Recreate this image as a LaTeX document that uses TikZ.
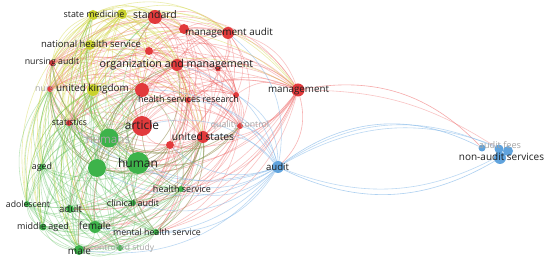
\documentclass[tikz,border=0pt]{standalone}
\usepackage{fontspec}
\setmainfont{Open Sans}
\pgfdeclarelayer{bg}
\pgfsetlayers{bg,main}
\definecolor{rcol}{HTML}{E23A3C}
\definecolor{ycol}{HTML}{C9D22E}
\definecolor{gcol}{HTML}{3DB34A}
\definecolor{bcol}{HTML}{4F9ADA}
\definecolor{rE}{HTML}{EE5757}
\definecolor{yE}{HTML}{D0D53A}
\definecolor{gE}{HTML}{55BE55}
\definecolor{bE}{HTML}{7AB3E8}
\newdimen\vAx \newdimen\vAy \newdimen\vBx \newdimen\vBy
% draw an edge so that it runs clockwise round the middle of the map
\newcommand\vedge[4]{%
  \pgfextractx{\vAx}{\pgfpointanchor{#3}{center}}%
  \pgfextracty{\vAy}{\pgfpointanchor{#3}{center}}%
  \pgfextractx{\vBx}{\pgfpointanchor{#4}{center}}%
  \pgfextracty{\vBy}{\pgfpointanchor{#4}{center}}%
  \pgfmathsetmacro\vCr{(\vAx-150pt)/100*(\vBy-\vAy)/100-(\vAy+130pt)/100*(\vBx-\vAx)/100}%
  \ifdim\vCr pt<0pt \draw[#1] (#3) to[bend left=#2] (#4);%
  \else \draw[#1] (#4) to[bend left=#2] (#3);\fi}
\newcommand\vpairs[3]{\foreach \a [count=\i] in {#3}{\foreach \b [count=\j] in {#3}{\ifnum\j>\i\relax\vedge{#1}{#2}{\a}{\b}\fi}}}
\newcommand\vcross[4]{\foreach \a in {#3}{\foreach \b in {#4}{\vedge{#1}{#2}{\a}{\b}}}}
\tikzset{
  nd/.style={circle, inner sep=0pt, minimum size=#1, draw=none},
  rn/.style={nd=#1, fill=rcol},
  yn/.style={nd=#1, fill=ycol},
  gn/.style={nd=#1, fill=gcol},
  bn/.style={nd=#1, fill=bcol, fill opacity=0.9},
  lab/.style={inner sep=0pt, text=black!88, font=\fontsize{#1}{#1}\selectfont},
  glab/.style={lab=#1, text=black!35},
  ee/.style={line width=0.6pt, draw opacity=0.36},
  eR/.style={ee, draw=rE},
  eY/.style={ee, draw=yE, draw opacity=0.42},
  eG/.style={ee, draw=gE},
  eB/.style={ee, draw=bE, draw opacity=0.5}
}
\begin{document}
\begin{tikzpicture}[x=1pt, y=-1pt]
\useasboundingbox (0,0) rectangle (550,264);
\begin{pgfonlayer}{bg}
\fill[white] (0,0) rectangle (550,264);
\end{pgfonlayer}
% red cluster
\node[rn=14pt] (std) at (155,17) {};
\node[rn=10pt] (ra) at (184,29) {};
\node[rn=12pt] (mga) at (228,33) {};
\node[rn=8pt] (rb) at (149,51) {};
\node[rn=12pt] (om) at (177,65) {};
\node[rn=5pt] (rc) at (218,69) {};
\node[rn=6pt] (nau) at (52,63) {};
\node[rn=6pt] (nurs) at (50,89) {};
\node[rn=14pt] (rd) at (142,90) {};
\node[rn=6pt] (hsr) at (188,100) {};
\node[rn=6pt] (re) at (236,95) {};
\node[rn=6pt] (stat) at (69,123) {};
\node[rn=20pt] (art) at (142,126) {};
\node[rn=6pt] (qc) at (240,126) {};
\node[rn=12pt] (us) at (203,137) {};
\node[rn=8pt] (rf) at (170,145) {};
\node[rn=13pt] (mgt) at (298,90) {};
% yellow cluster
\node[yn=10pt] (sm1) at (93,15) {};
\node[yn=10pt] (sm2) at (122,14) {};
\node[yn=10pt] (nhs) at (90,45) {};
\node[yn=12pt] (uk) at (93,90) {};
% green cluster
\node[gn=19pt] (hums) at (109,138) {};
\node[gn=22pt] (hum) at (138,163) {};
\node[gn=18pt] (ga) at (97,168) {};
\node[gn=6pt] (aged) at (42,167) {};
\node[gn=6pt] (hs) at (181,189) {};
\node[gn=6pt] (adol) at (27,204) {};
\node[gn=8pt] (adult) at (70,209) {};
\node[gn=6pt] (ca) at (133,203) {};
\node[gn=7pt] (mid) at (43,227) {};
\node[gn=12pt] (fem) at (95,227) {};
\node[gn=6pt] (mhs) at (156,232) {};
\node[gn=10pt] (male) at (79,250) {};
\node[gn=6pt] (cs) at (120,248) {};
% blue cluster
\node[bn=12pt] (aud) at (278,167) {};
\node[bn=7pt] (b2) at (482,148) {};
\node[bn=9pt] (b3) at (499,149) {};
\node[bn=10pt] (b4) at (508,151) {};
\node[bn=12pt] (b5) at (500,158) {};
% edges
\begin{pgfonlayer}{bg}
\vpairs{eR}{30}{std,ra,mga,rb,om,rc,nau,nurs,rd,hsr,re,stat,art,qc,us,rf,mgt}
\vcross{eR}{30}{art,us,rf,rd,stat,hsr,qc,om,mgt,nau,nurs,re}{hums,hum,ga}
\vcross{eR}{30}{art,us,mgt,qc,hsr,om,rf}{hs,ca,mhs,fem,male,adult}
\vpairs{eY}{30}{sm1,sm2,nhs,uk}
\vcross{eY}{30}{sm1,sm2,nhs,uk}{std,ra,mga,rb,om,rd,nau,nurs,art,hsr,stat,us,mgt,hums,hum,ga,aged,adol,mid,male,fem}
\vpairs{eG}{30}{hums,hum,ga,aged,hs,adol,adult,ca,mid,fem,mhs,male,cs}
\vcross{eG}{30}{hums,hum,ga}{art,rd,us,rf,stat,uk,nhs,nurs,nau,om,hsr,sm1,std,qc}
\vcross{eG}{30}{fem,male,adult,aged,mid,adol,ca,hs,mhs,cs}{art,rd,us,stat,uk,nurs}
\vcross{eB}{30}{aud}{art,hum,hums,us,rf,qc,hsr,hs,ca,mhs,om,re,ga,fem,rd,mga,stat,male}
\draw[eR, draw opacity=0.45] (mgt) to[bend left=30] (aud);
\draw[eR, draw opacity=0.5] (mgt) to[bend left=28] (b2);
\draw[eR, draw opacity=0.35] (mgt) to[bend left=16] (b3);
\draw[eB, draw opacity=0.6] (aud) to[bend left=32] (b2);
\draw[eB] (aud) to[bend left=29] (b3);
\draw[eB] (aud) to[bend left=26] (b4);
\draw[eB, draw opacity=0.6] (b5) to[bend left=28] (aud);
\draw[eB] (b4) to[bend left=25] (aud);
\end{pgfonlayer}
% labels
\node[lab=10.5] (l-std) at (155,15) {standard};
\node[lab=8.9] (l-sm) at (94,14) {state medicine};
\node[lab=9.9] (l-mga) at (229,33) {management audit};
\node[lab=9.5] (l-nhs) at (91,44) {national health service};
\node[lab=8.8] (l-nau) at (52,62) {nursing audit};
\node[lab=10.7] (l-om) at (176.5,65) {organization and management};
\node[glab=8.8, anchor=west] (l-nurs) at (35,89) {nurs};
\node[lab=9.9] (l-uk) at (92.5,89) {united kingdom};
\node[lab=9.8] (l-mgt) at (298.5,90) {management};
\node[lab=9.0] (l-hsr) at (188.5,99) {health services research};
\node[lab=8.7] (l-stat) at (69.5,122) {statistics};
\node[lab=11.9] (l-art) at (142,125) {article};
\node[glab=8.7] (l-qc) at (240,125) {quality control};
\node[glab=11.6] (l-hums) at (108,139) {humans};
\node[lab=10.3] (l-us) at (203,137) {united states};
\node[lab=12] (l-hum) at (138,163) {human};
\node[lab=8.8] (l-aged) at (42,167) {aged};
\node[lab=9.6] (l-aud) at (277.5,167) {audit};
\node[glab=9.2] (l-af) at (500,145) {audit fees};
\node[lab=10] (l-nas) at (501.5,157) {non-audit services};
\node[lab=9.0] (l-hs) at (182,189) {health service};
\node[lab=9.0] (l-ca) at (133,203) {clinical audit};
\node[lab=8.7] (l-adol) at (28,204) {adolescent};
\node[lab=9.6] (l-adult) at (70.5,209) {adult};
\node[lab=9.0] (l-mid) at (43,227) {middle aged};
\node[lab=10] (l-fem) at (95,226) {female};
\node[lab=8.8] (l-mhs) at (157,232) {mental health service};
\node[lab=10] (l-male) at (79.5,251) {male};
\node[glab=8.5] (l-cs) at (122,248) {controlled study};
\end{tikzpicture}
\end{document}
